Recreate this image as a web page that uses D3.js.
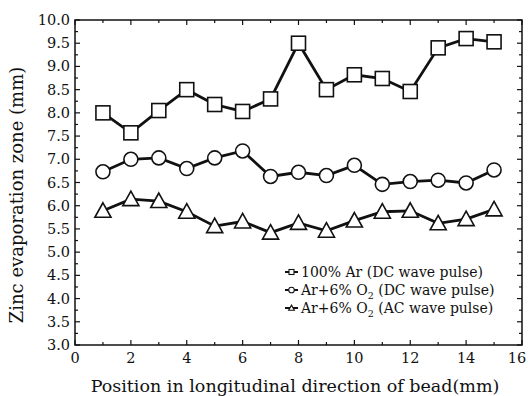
<!DOCTYPE html>
<html>
<head>
<meta charset="utf-8">
<script src="https://cdn.jsdelivr.net/npm/d3@7"></script>
<style>
  body { margin: 0; background: white; }
  svg { display: block; font-family: "DejaVu Serif", serif; }
</style>
</head>
<body>
<svg id="chart" width="528" height="396"></svg>
<script>
// Data
const positions = [1, 2, 3, 4, 5, 6, 7, 8, 9, 10, 11, 12, 13, 14, 15];
const arDC   = [8.0, 7.57, 8.05, 8.5, 8.18, 8.03, 8.3, 9.5, 8.5, 8.82, 8.74, 8.46, 9.4, 9.6, 9.53];
const o2DC   = [6.73, 7.0, 7.03, 6.8, 7.03, 7.18, 6.63, 6.72, 6.65, 6.87, 6.46, 6.52, 6.55, 6.49, 6.77];
const o2AC   = [5.89, 6.14, 6.1, 5.87, 5.56, 5.66, 5.42, 5.63, 5.46, 5.68, 5.87, 5.89, 5.62, 5.71, 5.92];
const legendLabels = ['100% Ar (DC wave pulse)', 'Ar+6% O|2| (DC wave pulse)', 'Ar+6% O|2| (AC wave pulse)'];
const xTicks = [0, 2, 4, 6, 8, 10, 12, 14, 16];
const yTicks = d3.range(3, 10.01, 0.5);

const series = [
    { values: arDC, shape: 'square' },
    { values: o2DC, shape: 'circle' },
    { values: o2AC, shape: 'triangle' }
];

// Layout
const margin = { left: 75, right: 6, top: 20, bottom: 51 };
const width = 528, height = 396;
const svg = d3.select('#chart');

const x = d3.scaleLinear().domain([0, 16]).range([margin.left, width - margin.right]);
const y = d3.scaleLinear().domain([3, 10]).range([height - margin.bottom, margin.top]);

const x0 = x.range()[0], x1 = x.range()[1];
const y0 = y.range()[0], y1 = y.range()[1];

// Frame
svg.append('rect')
    .attr('x', x0).attr('y', y1)
    .attr('width', x1 - x0).attr('height', y0 - y1)
    .attr('fill', 'none').attr('stroke', '#111').attr('stroke-width', 1.5);

// Ticks (inside, on all four sides)
const ticks = svg.append('g').attr('stroke', '#111').attr('stroke-width', 1.2);
d3.range(0, 16.01, 1).forEach((v) => {
    const len = v % 2 === 0 ? 5 : 3;
    ticks.append('line').attr('x1', x(v)).attr('x2', x(v)).attr('y1', y0).attr('y2', y0 - len);
    ticks.append('line').attr('x1', x(v)).attr('x2', x(v)).attr('y1', y1).attr('y2', y1 + len);
});
d3.range(3, 10.01, 0.25).forEach((v) => {
    const len = Math.abs(v * 2 - Math.round(v * 2)) < 1e-6 ? 5 : 3;
    ticks.append('line').attr('y1', y(v)).attr('y2', y(v)).attr('x1', x0).attr('x2', x0 + len);
    ticks.append('line').attr('y1', y(v)).attr('y2', y(v)).attr('x1', x1).attr('x2', x1 - len);
});

// Tick labels
svg.append('g').selectAll('text').data(xTicks).join('text')
    .attr('x', (d) => d === 16 ? x(d) - 5 : x(d)).attr('y', y0 + 18)
    .attr('text-anchor', 'middle').attr('font-size', 14.5).attr('fill', '#111')
    .text((d) => d);
svg.append('g').selectAll('text').data(yTicks).join('text')
    .attr('x', x0 - 5).attr('y', (d) => y(d) + 5)
    .attr('text-anchor', 'end').attr('font-size', 14.5).attr('fill', '#111')
    .text((d) => d.toFixed(1));

// Axis titles
svg.append('text')
    .attr('x', 295).attr('y', 392)
    .attr('text-anchor', 'middle').attr('font-size', 17.5).attr('fill', '#111')
    .text('Position in longitudinal direction of bead(mm)');
svg.append('text')
    .attr('transform', 'translate(23,195) rotate(-90)')
    .attr('text-anchor', 'middle').attr('font-size', 18).attr('fill', '#111')
    .text('Zinc evaporation zone (mm)');

// Markers
function drawMarker(g, shape, cx, cy, s) {
    if (shape === 'square') {
        g.append('rect').attr('x', cx - s).attr('y', cy - s).attr('width', 2 * s).attr('height', 2 * s);
    } else if (shape === 'circle') {
        g.append('circle').attr('cx', cx).attr('cy', cy).attr('r', s);
    } else {
        const h = s * 1.15;
        g.append('path').attr('d', `M${cx},${cy - h}L${cx + s * 1.15},${cy + h * 0.8}L${cx - s * 1.15},${cy + h * 0.8}Z`);
    }
}

const line = d3.line().x((d, i) => x(positions[i])).y((d) => y(d));

series.forEach((s) => {
    svg.append('path')
        .datum(s.values)
        .attr('d', line)
        .attr('fill', 'none').attr('stroke', '#111').attr('stroke-width', 2.8);
    const g = svg.append('g').attr('fill', 'white').attr('stroke', '#111').attr('stroke-width', 1.6);
    s.values.forEach((v, i) => drawMarker(g, s.shape, x(positions[i]), y(v), 7));
});

// Legend
const legend = svg.append('g').attr('transform', 'translate(285,272)');
series.forEach((s, i) => {
    const ly = i * 18;
    legend.append('line').attr('x1', 0).attr('x2', 13).attr('y1', ly).attr('y2', ly)
        .attr('stroke', '#111').attr('stroke-width', 2);
    const g = legend.append('g').attr('fill', 'white').attr('stroke', '#111').attr('stroke-width', 1.1);
    drawMarker(g, s.shape, 6.5, ly, s.shape === 'circle' ? 2.8 : 2.5);
    const t = legend.append('text').attr('x', 16).attr('y', ly + 5)
        .attr('font-size', 14).attr('fill', '#111');
    legendLabels[i].split('|').forEach((part, k) => {
        const ts = t.append('tspan').text(part);
        if (k === 1) ts.attr('font-size', 9.5).attr('dy', 3.5);
        if (k === 2) ts.attr('dy', -3.5);
    });
});
</script>
</body>
</html>
